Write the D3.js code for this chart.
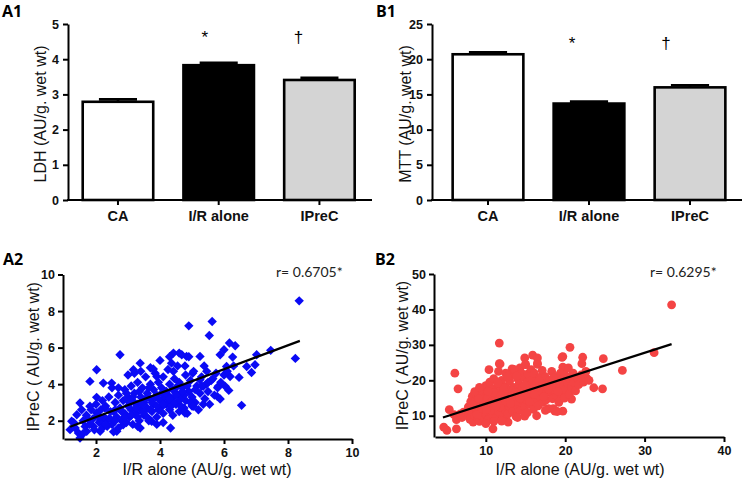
<!DOCTYPE html>
<html><head><meta charset="utf-8">
<script src="https://cdn.jsdelivr.net/npm/d3@7"></script>
<style>body{margin:0;background:#fff}svg{display:block}</style>
</head><body>
<script>
// ---------- DATA ----------
const categories = ["CA", "I/R alone", "IPreC"];
const ldhMeans = [2.79, 3.83, 3.41];
const ldhSem = [0.07, 0.07, 0.06];
const mttMeans = [20.7, 13.7, 16.0];
const mttSem = [0.28, 0.28, 0.3];
const barFills = ["#ffffff", "#000000", "#d4d4d4"];
const ldhTicks = [0, 1, 2, 3, 4, 5];
const mttTicks = [0, 5, 10, 15, 20, 25];
const a2Ticks = [2, 4, 6, 8, 10];
const b2XTicks = [10, 20, 30, 40];
const b2YTicks = [10, 20, 30, 40, 50];
const a2Fit = [[1.19, 1.67], [8.37, 6.37]];
const b2Fit = [[4.6, 9.5], [33.4, 30.2]];
const a2R = "r= 0.6705*";
const b2R = "r= 0.6295*";

// A2 scatter (LDH): I/R alone vs IPreC
const a2X = [8.35,8.23,7.46,7.02,6.97,6.86,6.71,6.47,6.55,6.17,6.35,6.0,5.88,6.27,6.08,6.19,6.04,6.15,5.82,5.79,5.88,
 5.63,5.54,4.9,5.25,5.38,5.46,5.25,5.35,5.02,4.83,4.68,4.78,4.42,4.36,4.42,
 2.75,2.02,1.81,2.23,2.49,2.02,1.5,1.55,1.4,1.24,1.19,1.45,1.71,1.5,1.66,1.92,2.13,1.81,2.02,2.28,2.33,2.13,
 4.33,3.74,3.38,2.85,2.65,
 2.4,2.5,2.55,2.6,2.65,2.7,2.7,2.75,2.8,2.85,2.9,2.9,2.95,3.0,3.0,3.05,3.1,3.1,3.15,3.2,3.2,3.25,3.3,3.3,3.35,3.4,3.4,3.45,3.5,3.5,
 3.55,3.6,3.6,3.65,3.7,3.7,3.75,3.8,3.8,3.85,3.9,3.9,3.95,4.0,4.0,4.05,4.1,4.1,4.15,4.2,4.2,4.25,4.3,4.3,4.35,4.4,4.4,4.45,4.5,4.5,
 4.55,4.6,4.6,4.65,4.7,4.75,4.8,4.8,4.85,4.9,4.95,5.0,5.0,5.05,5.1,5.15,5.2,5.25,5.3,5.35,5.4,5.45,5.5,5.55,5.6,5.7,5.75,5.8,5.9,6.0,
 1.6,1.7,1.8,1.85,1.9,1.95,2.0,2.05,2.1,2.15,2.2,2.2,2.25,2.3,2.35,2.4,2.45,2.5,2.55,2.6,
 2.8,2.95,3.05,3.15,3.25,3.35,3.45,3.55,3.65,3.75,3.85,3.95,4.05,4.15,4.25,4.35,4.45,4.55,4.65,4.75,4.85,4.95,
 3.3,3.0,3.4,4.0,4.3,4.6,4.9,3.7,3.2,4.1,3.6,3.9,2.7,3.38,3.17,3.79,3.9,4.78,5.04,4.63,
 1.3,1.35,1.6,1.75,2.1,2.3,2.45,2.6,2.9,3.1,3.3,3.5,3.7,3.9,4.1,4.3,4.5,4.7,5.1,5.3,5.5,5.65,6.1,6.3];
const a2Y = [8.56,5.41,5.85,5.61,5.06,4.64,4.97,4.37,2.84,6.25,6.1,5.88,5.61,5.48,4.97,4.42,3.88,3.66,3.88,3.33,3.19,
 7.43,6.66,7.19,5.52,5.0,4.7,4.24,3.88,4.6,5.52,5.61,5.0,5.7,5.15,4.7,
 5.61,4.79,4.15,4.06,4.06,3.28,2.97,2.6,2.33,1.97,1.51,1.33,1.42,1.05,1.69,1.69,1.42,2.79,2.42,2.69,2.06,1.97,
 1.6,1.97,1.6,1.78,1.42,
 2.1,1.8,2.5,3.0,2.2,1.6,3.4,2.7,2.0,3.1,2.4,3.7,1.9,2.8,3.3,2.2,3.9,2.6,1.8,3.0,3.5,2.4,4.1,2.9,2.0,3.3,2.6,3.8,2.3,3.0,
 4.4,2.7,3.5,2.0,3.2,4.0,2.5,3.7,2.9,4.6,2.2,3.4,4.1,2.7,3.1,3.8,2.4,4.4,3.3,2.9,3.6,4.8,2.6,4.0,3.2,3.7,2.3,4.3,2.9,3.5,
 5.0,2.5,4.1,3.3,3.8,2.7,4.5,3.1,2.4,3.6,4.2,2.8,3.3,4.7,3.0,3.9,2.6,3.5,4.4,2.9,3.2,4.0,3.6,2.9,4.2,3.4,4.6,3.8,4.1,4.5,
 2.0,2.3,1.8,2.6,2.1,1.5,2.9,2.3,1.9,2.6,3.1,1.6,2.2,2.8,1.7,3.3,2.5,3.8,1.4,2.6,
 2.5,3.5,3.0,3.3,2.7,3.6,2.9,3.2,3.8,3.0,3.3,2.6,3.5,2.9,3.4,2.8,3.0,3.9,2.8,3.4,3.9,3.0,
 1.7,4.5,4.7,5.3,5.5,5.7,5.5,4.9,4.6,1.9,2.2,1.8,3.8,5.15,4.79,4.83,4.42,2.42,2.79,3.15,
 1.9,1.6,1.3,2.1,2.2,1.8,2.1,2.0,2.2,2.3,2.2,2.5,2.6,2.8,2.9,3.2,3.4,3.6,3.7,3.9,4.1,4.3,4.7,5.0];

// B2 scatter (MTT): I/R alone vs IPreC
const b2X = [33.4,31.2,27.2,24.8,24.7,23.6,22.2,22.1,22.7,20.6,19.7,19.7,20.8,19.7,18.7,11.7,11.7,6.1,6.5,4.7,5.1,6.3,6.3,5.4,6.0,10.9,12.8,14.9,
 14.9,15.9,16.5,14.3,13.4,19.6,15.0,16.5,11.8,10.4,13.3,
 7.6,7.8,8.0,8.1,8.2,8.3,8.4,8.5,8.6,8.7,8.8,8.9,9.0,9.0,9.1,9.2,9.3,9.3,9.4,9.5,9.6,9.6,9.7,9.8,9.8,9.9,10.0,10.0,10.1,10.2,10.2,10.3,10.4,10.4,10.5,
 10.6,10.7,10.8,10.9,11.0,11.0,11.1,11.2,11.3,11.4,11.5,11.5,11.6,11.7,11.8,11.9,12.0,12.0,12.1,12.2,12.3,12.4,12.5,12.5,12.6,12.7,12.8,12.9,13.0,13.0,
 13.1,13.2,13.3,13.4,13.5,13.5,13.6,13.7,13.8,13.9,14.0,14.0,14.1,14.2,14.3,14.4,14.5,14.5,14.6,14.7,14.8,14.9,15.0,15.0,15.1,15.2,15.3,15.4,15.5,15.6,
 15.7,15.8,15.9,16.0,16.0,16.1,16.2,16.3,16.4,16.5,16.6,16.7,16.8,16.9,17.0,17.1,17.2,17.3,17.4,17.5,17.6,17.8,17.9,
 18.0,18.1,18.3,18.4,18.5,18.7,18.8,18.9,19.0,19.2,19.3,19.4,19.5,19.6,19.8,19.9,20.0,20.1,20.3,20.4,20.5,20.6,20.8,21.0,21.1,21.3,21.5,21.7,22.0,22.3,22.6,23.0,
 9.0,9.4,9.8,10.2,10.6,11.0,11.4,11.8,12.2,12.6,13.0,13.4,13.8,14.2,14.6,15.0,15.4,15.8,16.2,16.6,17.0,12.0,11.0,10.0,8.6,9.2,7.2,7.0,6.8,14.0,15.2,16.4,17.5,18.5,19.0,
 8.3,8.9,9.5,10.1,10.7,11.3,11.9,12.5,13.1,13.7,14.3,14.9,15.5,16.1,16.7,17.3,17.9,18.5,19.1,9.1,10.3,11.5,12.7,13.9];
const b2Y = [41.3,27.8,22.8,26.1,17.6,17.9,26.5,24.7,20.6,29.3,26.7,23.7,14.7,11.3,11.3,30.5,24.7,22.0,17.6,6.8,5.9,6.3,8.9,11.7,10.3,6.3,8.2,9.9,
 26.3,27.1,26.3,23.5,23.1,26.5,24.4,24.8,24.6,23.0,23.2,
 10.2,12.5,9.0,14.0,11.0,15.5,8.2,12.8,10.0,14.5,16.0,11.8,9.2,13.5,15.0,8.4,12.2,17.5,10.6,14.2,9.5,16.3,12.8,8.8,11.3,15.2,13.6,18.5,10.2,12.0,16.8,9.0,14.5,11.0,19.5,
 13.0,15.8,10.5,17.5,12.2,20.5,14.3,9.2,16.2,11.5,18.8,13.5,22.5,15.0,10.8,17.0,12.8,20.0,14.8,9.8,16.5,11.8,18.2,22.0,13.8,15.6,10.5,17.3,12.5,19.8,
 14.5,21.5,16.2,11.2,18.0,13.5,23.0,15.3,9.8,17.2,12.8,20.5,14.7,19.0,16.4,11.5,22.0,13.8,18.0,15.5,20.8,12.5,17.0,24.5,14.6,19.5,21.8,16.2,13.2,18.5,
 23.0,15.3,20.2,11.8,17.5,22.0,14.2,19.0,16.5,24.5,12.8,18.2,20.8,15.2,17.2,22.8,13.8,19.5,16.0,21.0,14.5,18.0,12.0,
 20.0,16.5,22.5,14.8,18.8,17.0,21.0,15.5,19.5,13.8,17.8,22.0,16.2,20.2,18.5,15.0,21.5,17.2,19.2,23.5,16.0,20.5,18.0,22.0,19.5,17.0,20.8,18.8,21.5,19.5,22.5,20.0,
 11.0,13.0,14.0,15.0,11.5,16.5,14.0,12.5,17.8,16.0,15.0,17.0,14.0,15.8,17.0,15.5,18.0,16.8,18.5,17.0,19.0,8.5,8.4,7.8,16.8,18.0,11.0,9.5,10.5,9.5,10.8,10.0,11.5,12.0,11.2,
 13.0,10.4,12.0,11.8,13.8,12.8,15.6,14.2,13.4,16.6,15.0,18.6,14.0,16.0,19.8,15.4,17.6,20.6,16.8,14.8,16.9,19.2,21.0,21.2];

// ---------- DRAW ----------
const W = 744, H = 480;
const svg = d3.select("body").append("svg").attr("width", W).attr("height", H);
const FONT = "'Liberation Sans', Arial, sans-serif";
const intFmt = d3.format("d");

function styleAxis(g) {
  g.selectAll(".domain").attr("stroke", "#000").attr("stroke-width", 2);
  g.selectAll(".tick line").attr("stroke", "#000").attr("stroke-width", 2);
  g.selectAll(".tick text").attr("fill", "#111").attr("font-family", FONT)
    .attr("font-weight", "bold").attr("font-size", 12.5);
}

function panelLabel(txt, x, y) {
  svg.append("text").attr("x", x).attr("y", y).text(txt)
    .attr("font-family", "'Open Sans', 'Noto Sans', sans-serif").attr("font-weight", "bold")
    .attr("font-size", 16).attr("fill", "#000");
}

function yTitle(txt, cx, cy) {
  svg.append("text").attr("transform", `translate(${cx},${cy}) rotate(-90)`)
    .attr("text-anchor", "middle").attr("dominant-baseline", "central")
    .attr("font-family", FONT).attr("font-size", 16).attr("fill", "#111").text(txt);
}

function barPanel(opt) {
  const {x0, xEnd, bandL, bandR, yTop, yBot, max, ticks, means, sems, title, titleX, marks} = opt;
  const x = d3.scaleBand().domain(categories).range([bandL, bandR]).padding(0);
  const y = d3.scaleLinear().domain([0, max]).range([yBot, yTop]);
  const bw = x.bandwidth() * 0.7;
  const g = svg.append("g");
  categories.forEach((c, i) => {
    const cx = x(c) + x.bandwidth() / 2;
    g.append("rect").attr("x", cx - bw / 2).attr("y", y(means[i]))
      .attr("width", bw).attr("height", y(0) - y(means[i]))
      .attr("fill", barFills[i]).attr("stroke", "#000").attr("stroke-width", 2.6);
    g.append("line").attr("x1", cx).attr("x2", cx).attr("y1", y(means[i])).attr("y2", y(means[i] + sems[i]))
      .attr("stroke", "#000").attr("stroke-width", 2.6);
    g.append("line").attr("x1", cx - bw * 0.27).attr("x2", cx + bw * 0.27)
      .attr("y1", y(means[i] + sems[i])).attr("y2", y(means[i] + sems[i]))
      .attr("stroke", "#000").attr("stroke-width", 2.6);
  });
  const ya = svg.append("g").attr("transform", `translate(${x0},0)`)
    .call(d3.axisLeft(y).tickValues(ticks).tickFormat(intFmt).tickSize(5).tickPadding(4).tickSizeOuter(0));
  styleAxis(ya);
  const xa = svg.append("g").attr("transform", `translate(0,${yBot})`)
    .call(d3.axisBottom(x).tickSize(5).tickPadding(6).tickSizeOuter(0));
  styleAxis(xa);
  xa.select(".domain").remove();
  xa.selectAll(".tick text").attr("font-size", 14.5);
  svg.append("line").attr("x1", x0 - 1).attr("x2", xEnd).attr("y1", yBot).attr("y2", yBot)
    .attr("stroke", "#000").attr("stroke-width", 2);
  yTitle(title, titleX, (yTop + yBot) / 2 + 2);
  marks.forEach(m => {
    svg.append("text").attr("x", x(categories[m.i]) + x.bandwidth() / 2 + m.dx).attr("y", y(m.v))
      .attr("text-anchor", "middle").attr("font-family", FONT).attr("font-size", 17)
      .attr("fill", "#000").text(m.s);
  });
}

barPanel({x0: 68, xEnd: 372, bandL: 67.6, bandR: 369.8, yTop: 24, yBot: 200, max: 5, ticks: ldhTicks,
  means: ldhMeans, sems: ldhSem, title: "LDH (AU/g. wet wt)", titleX: 40,
  marks: [{i: 1, v: 4.45, s: "*", dx: -14}, {i: 2, v: 4.45, s: "\u2020", dx: -21}]});
barPanel({x0: 432, xEnd: 742, bandL: 437.5, bandR: 740.5, yTop: 24, yBot: 200, max: 25, ticks: mttTicks,
  means: mttMeans, sems: mttSem, title: "MTT (AU/g. wet wt)", titleX: 405,
  marks: [{i: 1, v: 21.4, s: "*", dx: -17}, {i: 2, v: 21.4, s: "\u2020", dx: -24}]});

panelLabel("A1", 2, 17);
panelLabel("B1", 376, 17);
panelLabel("A2", 3, 265);
panelLabel("B2", 375, 265);

function scatterPanel(opt) {
  const {xs, ys, xDom, xRange, yDom, yRange, xTicks, yTicks, fit, rText, rX, rY, kind, color, titleX, xTitleX} = opt;
  const x = d3.scaleLinear().domain(xDom).range(xRange);
  const y = d3.scaleLinear().domain(yDom).range(yRange);
  const g = svg.append("g");
  const pts = xs.map((v, i) => [v, ys[i]]);
  if (kind === "diamond") {
    const sym = d3.symbol(d3.symbolSquare, 44);
    g.selectAll("path.pt").data(pts).join("path").attr("class", "pt")
      .attr("d", sym).attr("transform", d => `translate(${x(d[0])},${y(d[1])}) rotate(45)`)
      .attr("fill", color);
  } else {
    g.selectAll("circle.pt").data(pts).join("circle").attr("class", "pt")
      .attr("cx", d => x(d[0])).attr("cy", d => y(d[1])).attr("r", 4.4).attr("fill", color);
  }
  g.append("line").attr("x1", x(fit[0][0])).attr("y1", y(fit[0][1]))
    .attr("x2", x(fit[1][0])).attr("y2", y(fit[1][1]))
    .attr("stroke", "#000").attr("stroke-width", 2.2);
  const ya = svg.append("g").attr("transform", `translate(${xRange[0] - 1},0)`)
    .call(d3.axisLeft(y).tickValues(yTicks).tickFormat(intFmt).tickSize(5).tickPadding(3).tickSizeOuter(0));
  styleAxis(ya);
  const xa = svg.append("g").attr("transform", `translate(0,${yRange[0]})`)
    .call(d3.axisBottom(x).tickValues(xTicks).tickFormat(intFmt).tickSize(5).tickPadding(4).tickSizeOuter(0));
  styleAxis(xa);
  yTitle("IPreC ( AU/g. wet wt)", titleX, (yRange[0] + yRange[1]) / 2);
  svg.append("text").attr("x", xTitleX).attr("y", 475).attr("text-anchor", "middle")
    .attr("font-family", FONT).attr("font-size", 16).attr("fill", "#111").text("I/R alone (AU/g. wet wt)");
  svg.append("text").attr("x", rX).attr("y", rY).attr("font-family", "Lato, 'Open Sans', sans-serif")
    .attr("font-size", 14).attr("fill", "#222").text(rText);
}

scatterPanel({xs: a2X, ys: a2Y, xDom: [1, 10], xRange: [64, 352], yDom: [1, 10], yRange: [439, 274.5],
  xTicks: a2Ticks, yTicks: a2Ticks, fit: a2Fit, rText: a2R, rX: 276, rY: 277, kind: "diamond",
  color: "#0a0af5", titleX: 33, xTitleX: 207});
scatterPanel({xs: b2X, ys: b2Y, xDom: [3.6, 40], xRange: [435, 724], yDom: [4, 50], yRange: [437, 274],
  xTicks: b2XTicks, yTicks: b2YTicks, fit: b2Fit, rText: b2R, rX: 650, rY: 277, kind: "circle",
  color: "#f44444", titleX: 402, xTitleX: 580});
</script>
</body></html>
